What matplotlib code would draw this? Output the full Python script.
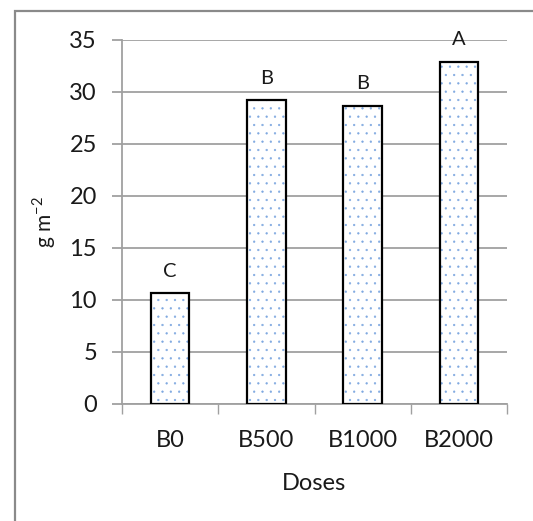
import numpy as np
import matplotlib.pyplot as plt
from matplotlib.patches import Rectangle

doses = ["B0", "B500", "B1000", "B2000"]
values = [10.65, 29.2, 28.65, 32.9]
letters = ["C", "B", "B", "A"]
yticks = [0, 5, 10, 15, 20, 25, 30, 35]

plt.rcParams['font.family'] = ['Lato', 'DejaVu Sans']
plt.rcParams['hatch.linewidth'] = 0.4

grid_col = '#a0a0a0'
text_col = '#1a1a1a'

fig = plt.figure(figsize=(5.33, 5.21), dpi=100)
ax = fig.add_axes([122 / 533, 117 / 521, 385 / 533, 364 / 521])

x = np.arange(len(doses))
# dotted fill, then black outline on top
ax.bar(x, values, width=0.4, color='white', edgecolor='#7fa8e0',
       hatch='..', linewidth=0, zorder=3)
ax.bar(x, values, width=0.4, fill=False, edgecolor='black',
       linewidth=1.6, zorder=4)

for xi, v, lab in zip(x, values, letters):
    ax.annotate(lab, (xi, v), xytext=(0, 16), textcoords='offset points',
                ha='center', va='center', fontsize=14.5, color=text_col)

ax.set_xlim(-0.5, len(doses) - 0.5)
ax.set_ylim(0, 35)
ax.set_yticks(yticks)
ax.yaxis.grid(True, color=grid_col, linewidth=1.3, zorder=0)
ax.set_axisbelow(True)

# ticks at category edges, labels at centres
ax.set_xticks(np.arange(len(doses) + 1) - 0.5)
ax.set_xticklabels([])
ax.set_xticks(x, minor=True)
ax.set_xticklabels(doses, minor=True, fontsize=17, color=text_col)
ax.tick_params(axis='x', which='minor', length=0, pad=19)
ax.tick_params(axis='x', which='major', length=7, width=1.0, color=grid_col)
ax.tick_params(axis='y', length=7, width=1.3, color=grid_col, pad=11,
               labelsize=17, labelcolor=text_col)

for s in ['top', 'right']:
    ax.spines[s].set_visible(False)
for s in ['left', 'bottom']:
    ax.spines[s].set_color(grid_col)
    ax.spines[s].set_linewidth(1.3)

ax.set_ylabel(r'g m$^{\mathregular{-2}}$', fontsize=15, color=text_col)
ax.yaxis.set_label_coords(-0.165, 0.5)
ax.set_xlabel('Doses', fontsize=17, color=text_col)
ax.xaxis.set_label_coords(0.5, -0.19)

# outer chart border (only left and top edges visible)
fig.add_artist(Rectangle((15 / 533, -0.1), 1.2, (510 / 521) + 0.1,
                         transform=fig.transFigure, fill=False,
                         edgecolor='#8a8a8a', linewidth=1.6))

fig.savefig('out.png', dpi=100)
